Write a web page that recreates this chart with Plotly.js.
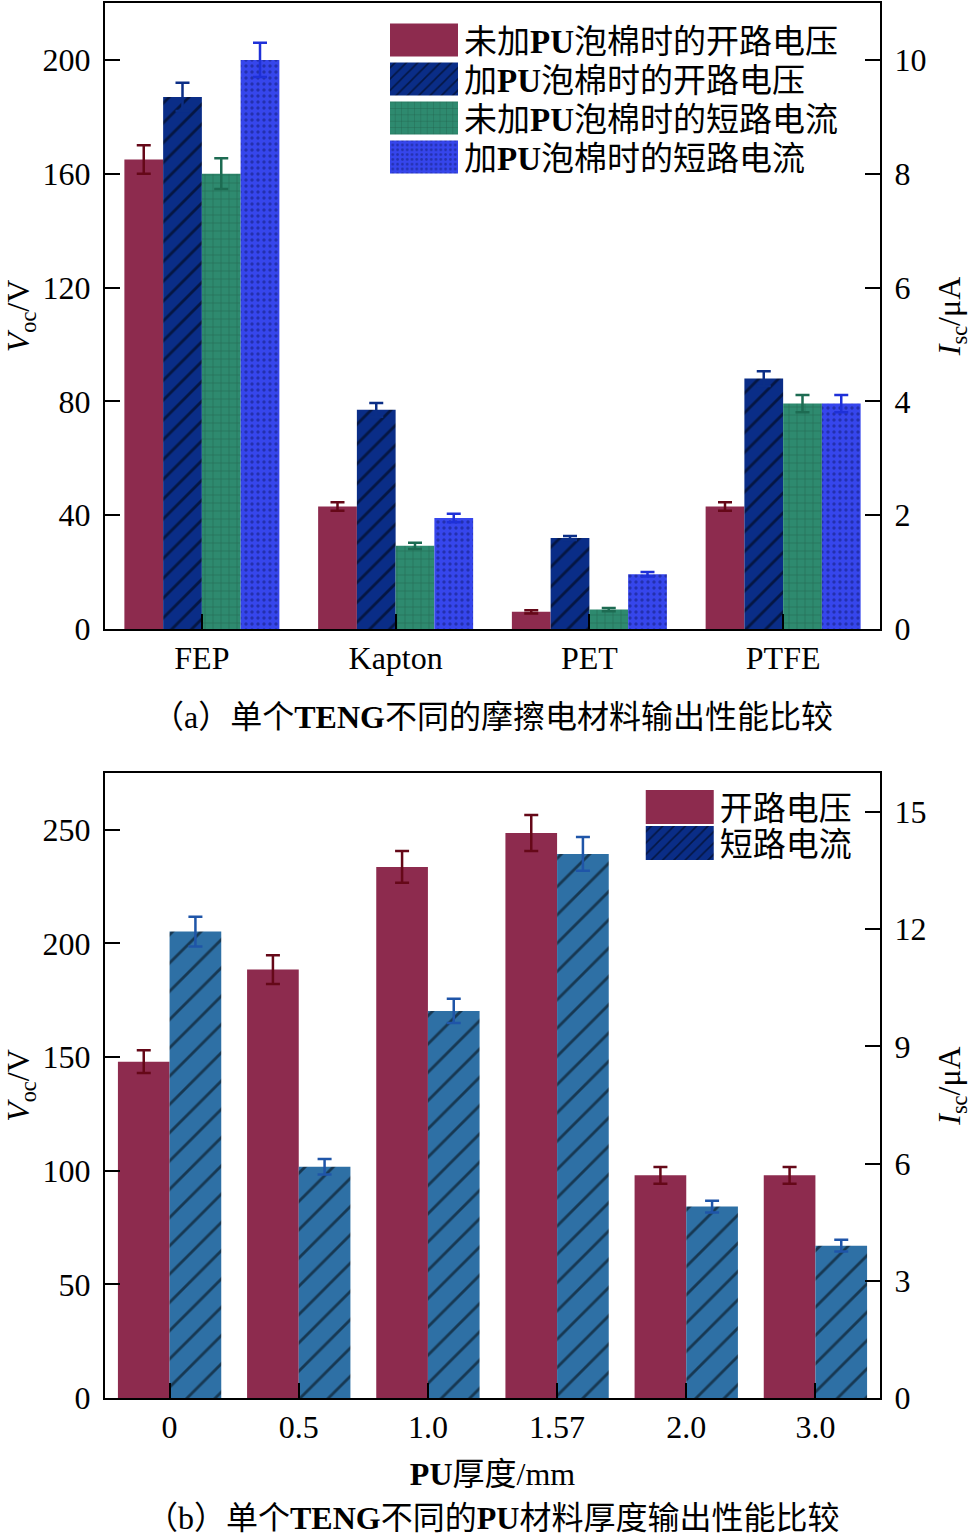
<!DOCTYPE html>
<html>
<head>
<meta charset="utf-8">
<script src="https://cdn.plot.ly/plotly-3.0.1.min.js"></script>
<style>
  html, body { margin: 0; padding: 0; background: #fff; }
  #chart { width: 972px; height: 1539px; }
</style>
</head>
<body>
<div id="chart"></div>
<script>
// ---- (a) triboelectric materials ----
const materials = ['FEP', 'Kapton', 'PET', 'PTFE'];
const vocNoFoam = [165, 43, 6, 43];          // V, without PU foam
const vocNoFoamErr = [5, 1.5, 0.6, 1.5];
const vocFoam = [187, 77, 32, 88];           // V, with PU foam
const vocFoamErr = [5, 2.4, 0.7, 2.6];
const iscNoFoam = [8.0, 1.46, 0.34, 3.96];   // μA, without PU foam
const iscNoFoamErr = [0.27, 0.055, 0.03, 0.15];
const iscFoam = [10.0, 1.95, 0.96, 3.96];    // μA, with PU foam
const iscFoamErr = [0.3, 0.075, 0.04, 0.15];

// ---- (b) PU thickness ----
const thickness = ['0', '0.5', '1.0', '1.57', '2.0', '3.0'];
const vocThick = [148, 188.5, 233.7, 248.6, 98, 98];
const vocThickErr = [5, 6.3, 7, 7.9, 3.7, 3.7];
const iscThick = [11.94, 5.92, 9.91, 13.93, 4.9, 3.9];
const iscThickErr = [0.38, 0.2, 0.31, 0.43, 0.15, 0.15];

const FONT = 'Liberation Serif, "Times New Roman", "Noto Sans CJK SC", serif';
const RED = '#8D2B4E', NAVY = '#0A2D87', GREEN = '#2E8A6F', BLUE = '#3646EC', STEEL = '#2E70A5';

function errs(arr, color) {
  return { type: 'data', array: arr, visible: true, color: color, thickness: 2.5, width: 7 };
}

const traces = [
  { type: 'bar', name: '未加<b>PU</b>泡棉时的开路电压', x: materials, y: vocNoFoam,
    xaxis: 'x', yaxis: 'y', width: 0.2, offset: -0.4, legend: 'legend',
    marker: { color: RED, line: { width: 0 } }, error_y: errs(vocNoFoamErr, '#650818') },
  { type: 'bar', name: '加<b>PU</b>泡棉时的开路电压', x: materials, y: vocFoam,
    xaxis: 'x', yaxis: 'y', width: 0.2, offset: -0.2, legend: 'legend',
    marker: { color: NAVY, line: { width: 0 },
      pattern: { shape: '/', fgcolor: '#000', fillmode: 'overlay', size: 14, solidity: 0.2 } },
    error_y: errs(vocFoamErr, '#0B2E86') },
  { type: 'bar', name: '未加<b>PU</b>泡棉时的短路电流', x: materials, y: iscNoFoam,
    xaxis: 'x', yaxis: 'y2', width: 0.2, offset: 0, legend: 'legend',
    marker: { color: GREEN, line: { width: 0 },
      pattern: { shape: '+', fgcolor: '#16402F', fillmode: 'overlay', size: 8, solidity: 0.12 } },
    error_y: errs(iscNoFoamErr, '#1D6B52') },
  { type: 'bar', name: '加<b>PU</b>泡棉时的短路电流', x: materials, y: iscFoam,
    xaxis: 'x', yaxis: 'y2', width: 0.2, offset: 0.2, legend: 'legend',
    marker: { color: BLUE, line: { width: 0 },
      pattern: { shape: '.', fgcolor: '#101a70', fillmode: 'overlay', size: 6, solidity: 0.25 } },
    error_y: errs(iscFoamErr, '#1E30D8') },

  { type: 'bar', name: '开路电压', x: thickness, y: vocThick,
    xaxis: 'x2', yaxis: 'y3', width: 0.4, offset: -0.4, legend: 'legend2',
    marker: { color: RED, line: { width: 0 } }, error_y: errs(vocThickErr, '#650818') },
  { type: 'bar', name: '短路电流', x: thickness, y: iscThick, showlegend: false,
    xaxis: 'x2', yaxis: 'y4', width: 0.4, offset: 0,
    marker: { color: STEEL, line: { width: 0 },
      pattern: { shape: '/', fgcolor: '#000', fillmode: 'overlay', size: 20, solidity: 0.14 } },
    error_y: errs(iscThickErr, '#1F55A8') },
  // legend key for the current series (navy swatch)
  { type: 'bar', name: '短路电流', x: [thickness[0]], y: [null], xaxis: 'x2', yaxis: 'y4', legend: 'legend2',
    width: 0.4, offset: 0,
    marker: { color: NAVY, line: { width: 0 },
      pattern: { shape: '/', fgcolor: '#000', fillmode: 'overlay', size: 14, solidity: 0.2 } } }
];

const axisBase = {
  showline: true, linecolor: '#000', linewidth: 2, ticks: 'inside', ticklen: 15, tickwidth: 2,
  tickcolor: '#000', showgrid: false, zeroline: false, fixedrange: true,
  tickfont: { family: FONT, size: 32, color: '#000' }
};

const layout = {
  width: 972, height: 1539,
  margin: { l: 105, r: 92, t: 3, b: 141 },
  paper_bgcolor: '#fff', plot_bgcolor: '#fff',
  barmode: 'overlay',
  font: { family: FONT, size: 32, color: '#000' },
  xaxis: Object.assign({}, axisBase, { type: 'category', anchor: 'y', domain: [0, 1], range: [-0.5, 3.5],
    mirror: true, ticklabelstandoff: 0 }),
  yaxis: Object.assign({}, axisBase, { domain: [0.5513, 1], range: [0, 220], tickvals: [0, 40, 80, 120, 160, 200],
    mirror: true, ticklabelstandoff: 6,
    title: { text: '<i>V</i><sub>oc</sub>/V', font: { family: FONT, size: 32 }, standoff: 8 } }),
  yaxis2: Object.assign({}, axisBase, { overlaying: 'y', side: 'right', anchor: 'x', range: [0, 11],
    tickvals: [0, 2, 4, 6, 8, 10], ticklabelstandoff: 6,
    title: { text: '<i>I</i><sub>sc</sub>/μA', font: { family: FONT, size: 32 }, standoff: 20 } }),
  xaxis2: Object.assign({}, axisBase, { type: 'category', anchor: 'y3', domain: [0, 1], range: [-0.5, 5.5],
    mirror: true, ticklabelstandoff: 0,
    title: { text: '<b>PU</b>厚度/mm', font: { family: FONT, size: 32 }, standoff: 18 } }),
  yaxis3: Object.assign({}, axisBase, { anchor: 'x2', domain: [0, 0.448], range: [0, 275], tickvals: [0, 50, 100, 150, 200, 250],
    mirror: true, ticklabelstandoff: 6,
    title: { text: '<i>V</i><sub>oc</sub>/V', font: { family: FONT, size: 32 }, standoff: 8 } }),
  yaxis4: Object.assign({}, axisBase, { overlaying: 'y3', side: 'right', anchor: 'x2', range: [0, 16],
    tickvals: [0, 3, 6, 9, 12, 15], ticklabelstandoff: 6,
    title: { text: '<i>I</i><sub>sc</sub>/μA', font: { family: FONT, size: 32 }, standoff: 20 } }),
  legend: { x: 0.36, y: 0.9935, xanchor: 'left', yanchor: 'top', bgcolor: 'rgba(0,0,0,0)',
    borderwidth: 0, itemwidth: 70, tracegroupgap: 0, traceorder: 'normal',
    font: { family: FONT, size: 33, color: '#000' } },
  legend2: { x: 0.69, y: 0.4437, xanchor: 'left', yanchor: 'top', bgcolor: 'rgba(0,0,0,0)',
    borderwidth: 0, itemwidth: 70, tracegroupgap: 0, traceorder: 'normal',
    font: { family: FONT, size: 33, color: '#000' } },
  annotations: [
    { xref: 'paper', yref: 'paper', x: 0.5, y: 0.5513, yshift: -88, xanchor: 'center', yanchor: 'middle', showarrow: false,
      text: '（a）单个<b>TENG</b>不同的摩擦电材料输出性能比较', font: { family: FONT, size: 32, color: '#000' } },
    { xref: 'paper', yref: 'paper', x: 0.5, y: 0, yshift: -120, xanchor: 'center', yanchor: 'middle', showarrow: false,
      text: '（b）单个<b>TENG</b>不同的<b>PU</b>材料厚度输出性能比较', font: { family: FONT, size: 32, color: '#000' } }
  ]
};

// Large rectangular legend keys with a tighter row pitch
const legendStyle = { legend: { step: 39, half: 16.5 }, legend2: { step: 36, half: 17 } };
function tweakLegends(gd) {
  gd.querySelectorAll('g.legend, g.legend2').forEach(function (lg) {
    const st = lg.classList.contains('legend2') ? legendStyle.legend2 : legendStyle.legend;
    lg.querySelectorAll('.legendpoints path').forEach(function (p) {
      p.setAttribute('d', 'M34,' + st.half + 'H-34V-' + st.half + 'H34Z');
    });
    const items = Array.from(lg.querySelectorAll('g.traces'));
    let y0 = null;
    items.forEach(function (g, i) {
      const m = /translate\(\s*([-\d.e]+)[\s,]+([-\d.e]+)\s*\)/.exec(g.getAttribute('transform') || '');
      if (!m) return;
      if (y0 === null) y0 = parseFloat(m[2]);
      g.setAttribute('transform', 'translate(' + m[1] + ',' + (y0 + i * st.step) + ')');
    });
  });
}

const gdEl = document.getElementById('chart');
Plotly.newPlot(gdEl, traces, layout, { staticPlot: true, displayModeBar: false }).then(function (gd) {
  tweakLegends(gd);
  gd.on('plotly_afterplot', function () { tweakLegends(gd); });
});
</script>
</body>
</html>
